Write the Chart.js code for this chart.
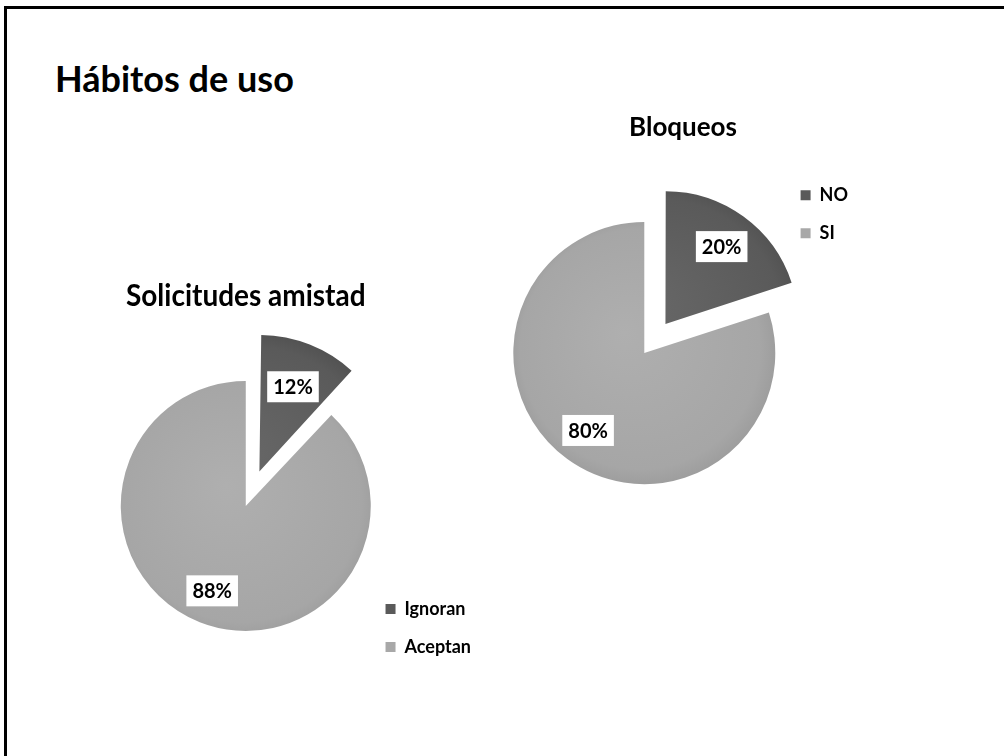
<!DOCTYPE html>
<html>
<head>
<meta charset="utf-8">
<script src="https://cdn.jsdelivr.net/npm/chart.js@4"></script>
<style>
  html, body { margin: 0; padding: 0; background: #ffffff; overflow: hidden; }
  body { width: 1004px; height: 756px; position: relative; font-family: Lato, "Open Sans", sans-serif; }
  #frame { position: absolute; left: 4px; top: 6px; width: 1000px; height: 750px; border-top: 3px solid #000; border-left: 3px solid #000; box-sizing: border-box; }
  #mainTitle { position: absolute; left: 55px; top: 56px; font-size: 36px; font-weight: 700; color: #000; white-space: nowrap; }
  canvas { position: absolute; }
</style>
</head>
<body>
<div id="frame"></div>
<div id="mainTitle">Hábitos de uso</div>
<canvas id="chartLeft" width="385" height="405" style="left:96px; top:271px;"></canvas>
<canvas id="chartRight" width="350" height="440" style="left:508px; top:100px;"></canvas>
<script>
// ---- data ----
const leftTitle = 'Solicitudes amistad';
const leftLabels = ['Ignoran', 'Aceptan'];
const leftValues = [12, 88];

const rightTitle = 'Bloqueos';
const rightLabels = ['NO', 'SI'];
const rightValues = [20, 80];

// ---- styling ----
Chart.defaults.font.family = 'Lato, "Open Sans", sans-serif';
Chart.defaults.color = '#000';

function sliceFill(ctx) {
  const chart = ctx.chart;
  const area = chart.chartArea;
  if (!area) return '#999';
  const cx = (area.left + area.right) / 2, cy = (area.top + area.bottom) / 2;
  const r = 150;
  const g = chart.ctx.createRadialGradient(cx - 20, cy - 20, 0, cx, cy, r);
  if (ctx.dataIndex === 0) {
    g.addColorStop(0, '#676767');
    g.addColorStop(0.8, '#5a5a5a');
    g.addColorStop(1, '#4c4c4c');
  } else {
    g.addColorStop(0, '#afafaf');
    g.addColorStop(0.8, '#a6a6a6');
    g.addColorStop(1, '#949494');
  }
  return g;
}

// Chart.js v4 translates an arc by offset/4
const pctLabels = {
  id: 'pctLabels',
  afterDatasetsDraw(chart) {
    const ctx = chart.ctx;
    const meta = chart.getDatasetMeta(0);
    const values = chart.data.datasets[0].data;
    ctx.save();
    ctx.font = 'bold 20px Lato, "Open Sans", sans-serif';
    ctx.textAlign = 'center';
    ctx.textBaseline = 'middle';
    meta.data.forEach((arc, i) => {
      const p = arc.getProps(['x', 'y', 'startAngle', 'endAngle', 'outerRadius'], true);
      const mid = (p.startAngle + p.endAngle) / 2;
      const shift = (arc.options.offset || 0) / 4;
      const d = p.outerRadius * 0.73 + shift;
      const x = p.x + Math.cos(mid) * d;
      const y = p.y + Math.sin(mid) * d;
      const txt = values[i] + '%';
      const w = ctx.measureText(txt).width + 12;
      const h = 31;
      ctx.fillStyle = '#ffffff';
      ctx.fillRect(x - w / 2, y - h / 2, w, h);
      ctx.fillStyle = '#000000';
      ctx.fillText(txt, x, y + 1);
    });
    ctx.restore();
  }
};

function legendLabels() {
  return {
    font: { size: 18, weight: 'bold' },
    color: '#000',
    boxWidth: 10,
    boxHeight: 10,
    padding: 20,
    generateLabels(chart) {
      const cols = ['#5a5a5a', '#a8a8a8'];
      return chart.data.labels.map((l, i) => ({
        text: l, fillStyle: cols[i], strokeStyle: cols[i], lineWidth: 0, index: i, hidden: false
      }));
    }
  };
}

new Chart(document.getElementById('chartRight'), {
  type: 'pie',
  data: {
    labels: rightLabels,
    datasets: [{
      data: rightValues,
      backgroundColor: sliceFill,
      borderWidth: 0,
      offset: [144, 0],
      clip: false
    }]
  },
  options: {
    responsive: false,
    animation: false,
    radius: 131,
    layout: { padding: 0 },
    plugins: {
      tooltip: { enabled: false },
      title: {
        display: true, text: rightTitle, fullSize: true,
        font: { size: 26, weight: 'bold', lineHeight: 1.2 },
        color: '#000',
        padding: { top: 12, bottom: 23 }
      },
      legend: {
        display: true, position: 'right', align: 'start', fullSize: false,
        labels: legendLabels()
      }
    }
  },
  plugins: [pctLabels]
});

new Chart(document.getElementById('chartLeft'), {
  type: 'pie',
  data: {
    labels: leftLabels,
    datasets: [{
      data: leftValues,
      backgroundColor: sliceFill,
      borderWidth: 0,
      offset: [148, 0],
      clip: false
    }]
  },
  options: {
    responsive: false,
    animation: false,
    radius: 125,
    layout: { padding: { left: 30 } },
    plugins: {
      tooltip: { enabled: false },
      title: {
        display: true, text: leftTitle, fullSize: false,
        font: { size: 30, weight: 'bold', lineHeight: 1.2 },
        color: '#000',
        padding: { top: 7, bottom: 22 }
      },
      legend: {
        display: true, position: 'right', align: 'end', fullSize: false,
        labels: legendLabels()
      }
    }
  },
  plugins: [pctLabels]
});
</script>
</body>
</html>
